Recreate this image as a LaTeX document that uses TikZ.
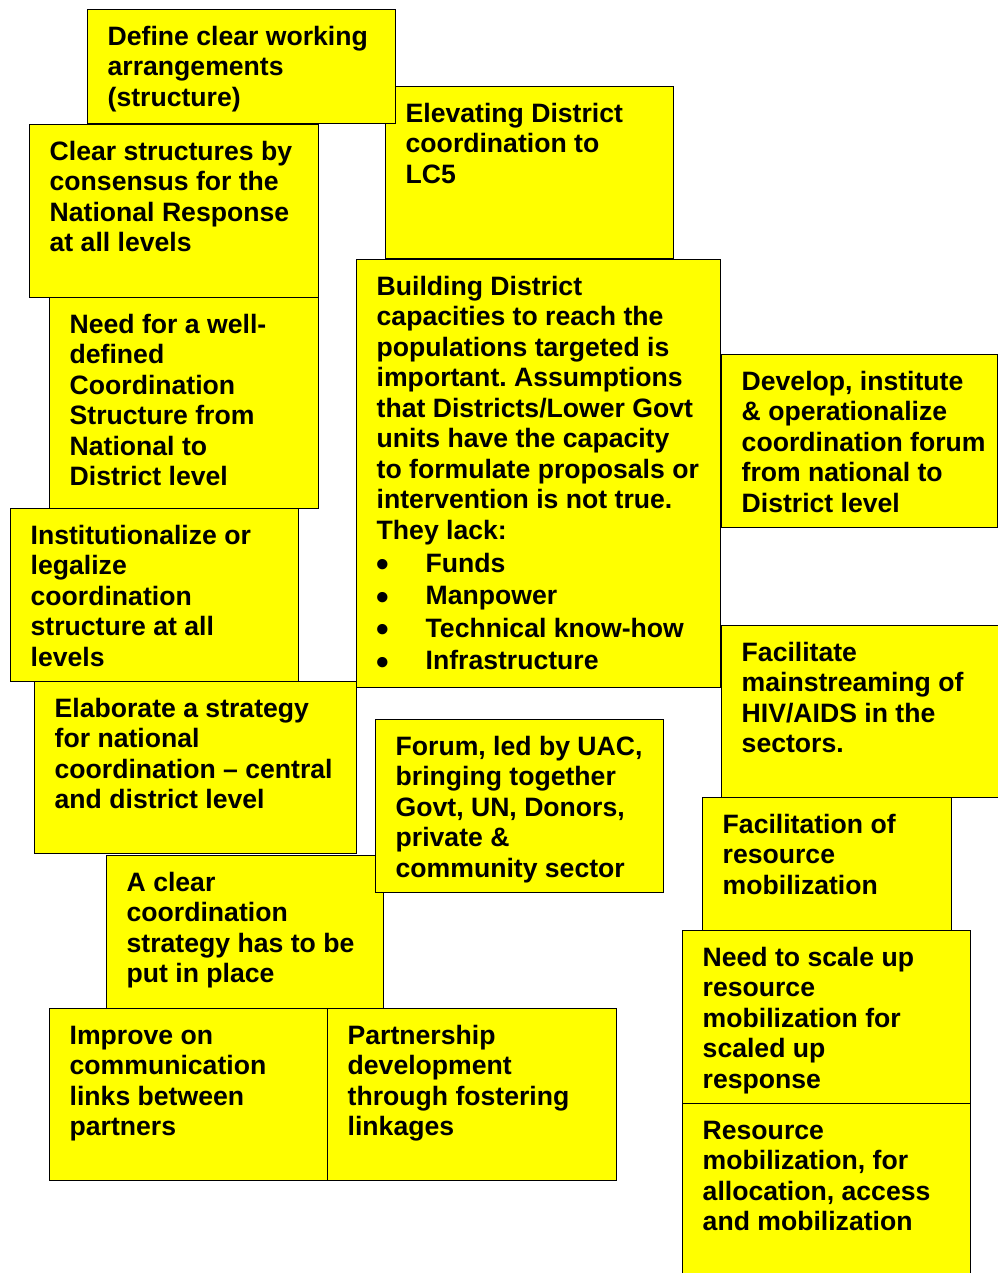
\documentclass[tikz,border=0pt]{standalone}
\usepackage{fontspec}
\setmainfont{Liberation Sans}
\definecolor{noteYellow}{RGB}{255, 255, 0}
\usepackage{tikz}
\usetikzlibrary{positioning}

\newcommand{\lackdot}{\makebox[49pt][l]{\smash{\fontsize{36pt}{30.5pt}\selectfont\raisebox{-4.5pt}{\textbullet}}}}

\begin{document}
\frenchspacing
\begin{tikzpicture}[
      x=1pt, y=-1pt,
      card/.style={
        rectangle, draw=black, fill=noteYellow, line width=1.3pt,
        anchor=north west, inner sep=0pt
      },
      cardtext/.style={
        anchor=north west, inner sep=0pt, align=left,
        font=\fontsize{26.6pt}{30.5pt}\selectfont\bfseries
      },
    ]
      \useasboundingbox (0,0) rectangle (997,1273);

      % notes, back to front
      \node[card, minimum width=288pt, minimum height=172pt] (b2) at (385,86) {};
      \node[cardtext] (t2) at ([xshift=20.5pt]b2.north west) {\rule{0pt}{36pt}Elevating District\\ coordination to\\ LC5};
      \node[card, minimum width=308pt, minimum height=114pt] (b1) at (87,9) {};
      \node[cardtext] (t1) at ([xshift=20.5pt]b1.north west) {\rule{0pt}{36pt}Define clear working\\ arrangements\\ (structure)};
      \node[card, minimum width=289pt, minimum height=173pt] (b3) at (29,124) {};
      \node[cardtext] (t3) at ([xshift=20.5pt]b3.north west) {\rule{0pt}{36pt}Clear structures by\\ consensus for the\\ National Response\\ at all levels};
      \node[card, minimum width=364pt, minimum height=428pt] (b4) at (356,259) {};
      \node[cardtext] (t4) at ([xshift=20.5pt]b4.north west) {\rule{0pt}{36pt}Building District\\ capacities to reach the\\ populations targeted is\\ important. Assumptions\\ that Districts/Lower Govt\\ units have the capacity\\ to formulate proposals or\\ intervention is not true.\\ They lack:\\[2.5pt]
        \lackdot Funds\\[2pt]
        \lackdot Manpower\\[2pt]
        \lackdot Technical know-how\\[2pt]
        \lackdot Infrastructure};
      \node[card, minimum width=269pt, minimum height=211pt] (b5) at (49,297) {};
      \node[cardtext] (t5) at ([xshift=20.5pt]b5.north west) {\rule{0pt}{36pt}Need for a well-\\ defined\\ Coordination\\ Structure from\\ National to\\ District level};
      \node[card, minimum width=276pt, minimum height=173pt] (b6) at (721,354) {};
      \node[cardtext] (t6) at ([xshift=20.5pt]b6.north west) {\rule{0pt}{36pt}Develop, institute\\ \& operationalize\\ coordination forum\\ from national to\\ District level};
      \node[card, minimum width=288pt, minimum height=173pt] (b7) at (10,508) {};
      \node[cardtext] (t7) at ([xshift=20.5pt]b7.north west) {\rule{0pt}{36pt}Institutionalize or\\ legalize\\ coordination\\ structure at all\\ levels};
      \node[card, minimum width=282pt, minimum height=172pt] (b8) at (721,625) {};
      \node[cardtext] (t8) at ([xshift=20.5pt]b8.north west) {\rule{0pt}{36pt}Facilitate\\ mainstreaming of\\ HIV/AIDS in the\\ sectors.};
      \node[card, minimum width=322pt, minimum height=172pt] (b9) at (34,681) {};
      \node[cardtext] (t9) at ([xshift=20.5pt]b9.north west) {\rule{0pt}{36pt}Elaborate a strategy\\ for national\\ coordination \textendash{} central\\ and district level};
      \node[card, minimum width=277pt, minimum height=153pt] (b12) at (106,855) {};
      \node[cardtext] (t12) at ([xshift=20.5pt]b12.north west) {\rule{0pt}{36pt}A clear\\ coordination\\ strategy has to be\\ put in place};
      \node[card, minimum width=288pt, minimum height=173pt] (b10) at (375,719) {};
      \node[cardtext] (t10) at ([xshift=20.5pt]b10.north west) {\rule{0pt}{36pt}Forum, led by UAC,\\ bringing together\\ Govt, UN, Donors,\\ private \&\\ community sector};
      \node[card, minimum width=249pt, minimum height=133pt] (b11) at (702,797) {};
      \node[cardtext] (t11) at ([xshift=20.5pt]b11.north west) {\rule{0pt}{36pt}Facilitation of\\ resource\\ mobilization};
      \node[card, minimum width=288pt, minimum height=173pt] (b13) at (682,930) {};
      \node[cardtext] (t13) at ([xshift=20.5pt]b13.north west) {\rule{0pt}{36pt}Need to scale up\\ resource\\ mobilization for\\ scaled up\\ response};
      \node[card, minimum width=279pt, minimum height=172pt] (b14) at (49,1008) {};
      \node[cardtext] (t14) at ([xshift=20.5pt]b14.north west) {\rule{0pt}{36pt}Improve on\\ communication\\ links between\\ partners};
      \node[card, minimum width=289pt, minimum height=172pt] (b15) at (327,1008) {};
      \node[cardtext] (t15) at ([xshift=20.5pt]b15.north west) {\rule{0pt}{36pt}Partnership\\ development\\ through fostering\\ linkages};
      \node[card, minimum width=288pt, minimum height=190pt] (b16) at (682,1103) {};
      \node[cardtext] (t16) at ([xshift=20.5pt]b16.north west) {\rule{0pt}{36pt}Resource\\ mobilization, for\\ allocation, access\\ and mobilization};
    \end{tikzpicture}
\end{document}
